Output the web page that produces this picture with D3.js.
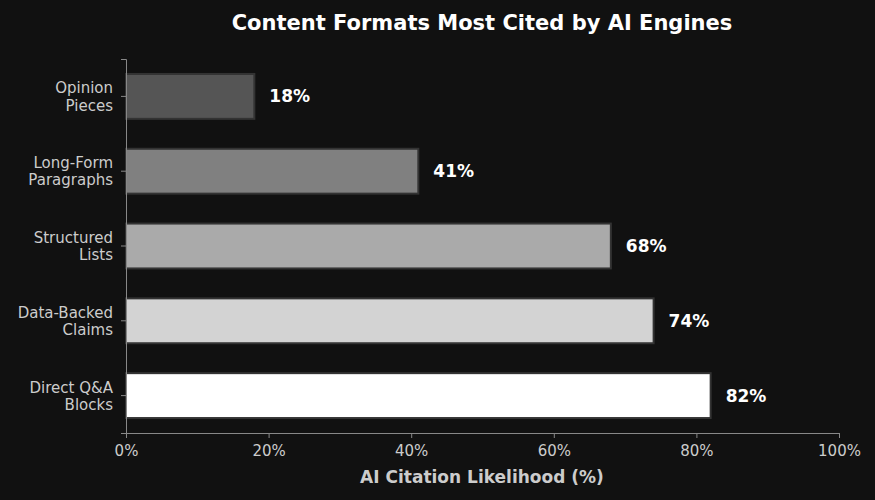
<!DOCTYPE html>
<html><head><meta charset="utf-8">
<script src="https://cdn.jsdelivr.net/npm/d3@7"></script>
<style>body{margin:0;background:#111111;}</style>
</head><body>
<svg id="c" width="875" height="500"></svg>
<script>
const categories = [["Opinion","Pieces"],["Long-Form","Paragraphs"],["Structured","Lists"],["Data-Backed","Claims"],["Direct Q&A","Blocks"]];
const values = [18,41,68,74,82];
const colors = ["#555555","#808080","#aaaaaa","#d3d3d3","#ffffff"];
const ticks = [0,20,40,60,80,100];

const svg = d3.select("#c");
svg.append("rect").attr("width",875).attr("height",500).attr("fill","#111111");
const m = {l:126, r:839, t:59, b:433};
const x = d3.scaleLinear().domain([0,100]).range([m.l,m.r]);
const y = d3.scaleBand().domain(d3.range(categories.length)).range([m.t,m.b]).paddingInner(0.4).paddingOuter(0.2);

svg.append("text").attr("x",482).attr("y",30).attr("text-anchor","middle")
  .attr("fill","#ffffff").attr("font-family","DejaVu Sans").attr("font-weight","bold").attr("font-size",21)
  .text("Content Formats Most Cited by AI Engines");

svg.selectAll("rect.bar").data(values).enter().append("rect").attr("class","bar")
  .attr("x",x(0)).attr("y",(d,i)=>y(i)).attr("width",d=>x(d)-x(0)).attr("height",y.bandwidth())
  .attr("fill",(d,i)=>colors[i]).attr("stroke","#333333").attr("stroke-width",2);

svg.selectAll("text.val").data(values).enter().append("text")
  .attr("x",d=>x(d)+15).attr("y",(d,i)=>y(i)+y.bandwidth()/2).attr("dy","0.35em")
  .attr("fill","#ffffff").attr("font-family","DejaVu Sans").attr("font-weight","bold").attr("font-size",17)
  .text(d=>d+"%");

const xa = svg.append("g").attr("transform",`translate(0,${m.b})`)
  .call(d3.axisBottom(x).tickValues(ticks).tickFormat(d=>d+"%").tickSize(5));
xa.selectAll("text").attr("fill","#cccccc").attr("font-family","DejaVu Sans").attr("font-size",15).attr("dy","1em");
xa.selectAll("line,path").attr("stroke","#888888");

const ya = svg.append("g").attr("transform",`translate(${m.l},0)`)
  .call(d3.axisLeft(y).tickSize(5).tickFormat(""));
ya.selectAll("line,path").attr("stroke","#888888");
categories.forEach((c,i)=>{
  const t = svg.append("text").attr("x",m.l-13).attr("y",y(i)+y.bandwidth()/2).attr("text-anchor","end")
    .attr("fill","#cccccc").attr("font-family","DejaVu Sans").attr("font-size",15);
  t.append("tspan").attr("x",m.l-13).attr("dy","-0.2em").text(c[0]);
  t.append("tspan").attr("x",m.l-13).attr("dy","1.15em").text(c[1]);
});

svg.append("text").attr("x",482).attr("y",483).attr("text-anchor","middle")
  .attr("fill","#cccccc").attr("font-family","DejaVu Sans").attr("font-weight","bold").attr("font-size",17)
  .text("AI Citation Likelihood (%)");
</script>
</body></html>
